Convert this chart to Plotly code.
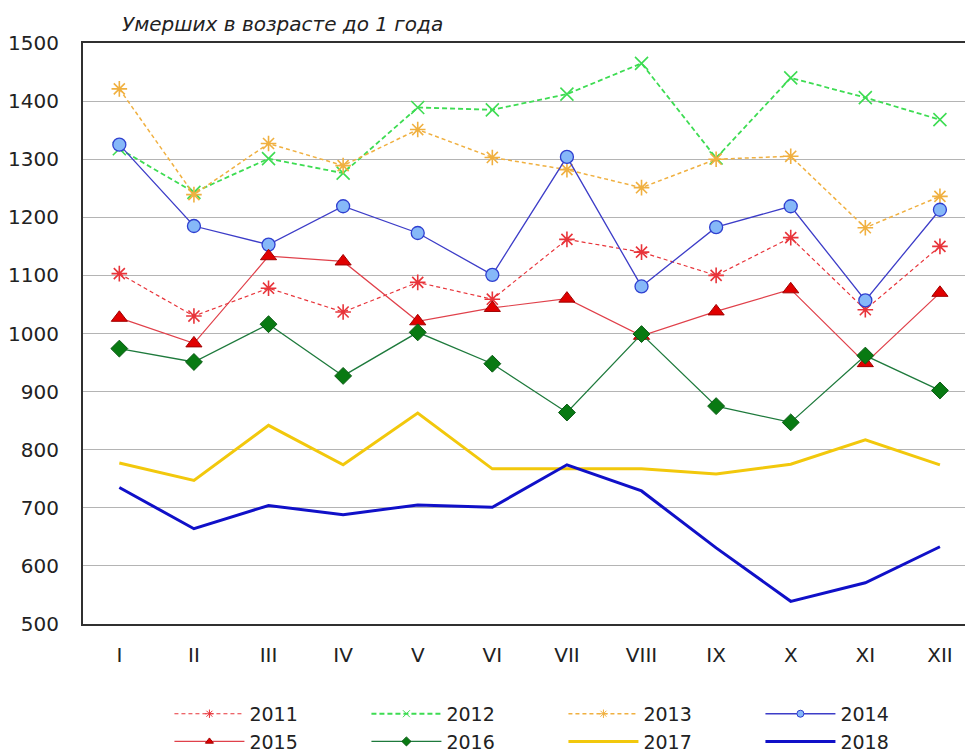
import plotly.graph_objects as go

months = ["I", "II", "III", "IV", "V", "VI", "VII", "VIII", "IX", "X", "XI", "XII"]

y2011 = [1103, 1030, 1078, 1037, 1088, 1059, 1162, 1140, 1100, 1165, 1041, 1150]
y2012 = [1318, 1243, 1301, 1276, 1389, 1385, 1412, 1465, 1302, 1440, 1406, 1368]
y2013 = [1421, 1239, 1327, 1289, 1351, 1303, 1282, 1251, 1300, 1305, 1182, 1236]
y2014 = [1325, 1185, 1153, 1219, 1173, 1101, 1304, 1081, 1183, 1219, 1057, 1213]
y2015 = [1027, 983, 1133, 1124, 1021, 1044, 1060, 996, 1038, 1076, 949, 1070]
y2016 = [974, 951, 1016, 927, 1002, 948, 864, 999, 875, 847, 962, 902]
y2017 = [777, 747, 842, 774, 863, 767, 767, 767, 758, 775, 817, 774]
y2018 = [735, 664, 704, 688, 705, 701, 774, 729, 631, 539, 571, 633]

title_text = "Умерших в возрасте до 1 года"

FONT = "DejaVu Sans, Verdana, sans-serif"

fig = go.Figure()

def add(name, y, color, width, dash, symbol=None, msize=0, mfill=None, mline=None, mlw=1):
    mode = "lines+markers" if symbol else "lines"
    marker = None
    lmarker = None
    if symbol:
        marker = dict(symbol=symbol, size=msize,
                      color=mfill if mfill else color,
                      line=dict(color=mline if mline else color, width=mlw))
        lmarker = dict(symbol=symbol, size=7,
                       color=mfill if mfill else color,
                       line=dict(color=mline if mline else color, width=1))
    # data trace
    fig.add_trace(go.Scatter(x=months, y=y, name=name, mode=mode, legendgroup=name,
                             showlegend=False,
                             line=dict(color=color, width=width, dash=dash),
                             marker=marker))
    # legend entry (small marker like the original legend)
    fig.add_trace(go.Scatter(x=[None], y=[None], name=name, mode=mode, legendgroup=name,
                             showlegend=True, hoverinfo="skip",
                             line=dict(color=color, width=width, dash=dash),
                             marker=lmarker))

add("2011", y2011, "#e8343a", 1.2, "4px,3px", "asterisk-open", 13, None, "#e8343a", 1.6)
add("2012", y2012, "#3ddc52", 1.8, "5px,3px", "x-thin-open", 13, None, "#3ddc52", 1.6)
add("2013", y2013, "#f0b040", 1.5, "4px,3px", "asterisk-open", 13, None, "#f0b030", 1.6)
add("2014", y2014, "#3d3dc8", 1.3, "solid", "circle", 13, "#86b8f8", "#2f3fd0", 1.3)
add("2015", y2015, "#e0404a", 1.2, "solid", "triangle-up", 14, "#e00000", "#a00000", 1)
add("2016", y2016, "#1e7a3c", 1.3, "solid", "diamond", 13, "#087a12", "#0a5a14", 1)
add("2017", y2017, "#f2c80c", 3, "solid")
add("2018", y2018, "#1010c8", 3, "solid")

fig.update_layout(
    width=965, height=752,
    paper_bgcolor="white", plot_bgcolor="white",
    margin=dict(l=83, r=0, t=43, b=128, autoexpand=False),
    font=dict(family=FONT, size=19, color="#222222"),
    showlegend=True,
    legend=dict(orientation="h", x=0.098, xanchor="left", y=-0.122, yanchor="top",
                entrywidth=112, entrywidthmode="pixels", itemwidth=70,
                font=dict(family=FONT, size=19, color="#222222"),
                tracegroupgap=0),
    annotations=[dict(text="<i>" + title_text + "</i>", xref="paper", yref="paper",
                      x=(120 - 83) / 882, y=1, xanchor="left", yanchor="bottom",
                      yshift=5, showarrow=False,
                      font=dict(family=FONT, size=20, color="#222222"))],
)

fig.update_xaxes(type="category", range=[-0.487, 11.336], showgrid=False,
                 showline=True, linecolor="#303030", linewidth=2, mirror=True,
                 ticks="", ticklabelstandoff=12,
                 tickfont=dict(family=FONT, size=20, color="#222222"))
fig.update_yaxes(range=[500, 1500], dtick=100, showgrid=True, gridcolor="#b4b4b4",
                 gridwidth=1, showline=True, linecolor="#303030", linewidth=2,
                 ticks="", ticklabelstandoff=18, zeroline=False,
                 tickfont=dict(family=FONT, size=20, color="#222222"))

fig.write_html("out.html", config={"displayModeBar": False},
               post_script="document.body.style.margin='0';document.body.style.overflow='hidden';")
